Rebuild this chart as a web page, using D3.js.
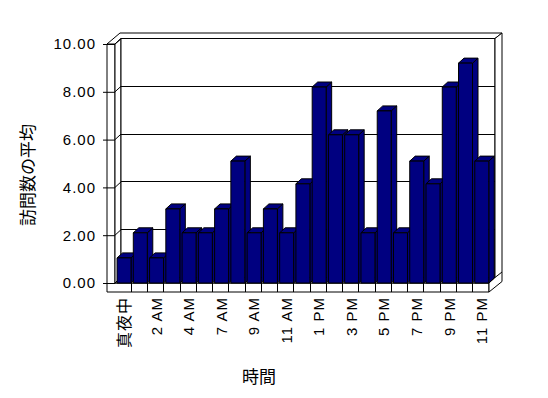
<!DOCTYPE html>
<html lang="ja">
<head>
<meta charset="UTF-8">
<title>訪問数の平均</title>
<script src="https://d3js.org/d3.v7.min.js"></script>
<style>
  body { margin: 0; background: #fff; }
  svg { display: block; }
  text { fill: #000; }
</style>
</head>
<body>
<script>
// hours (5 AM has no data), only every other one gets a label
var categories = ['真夜中', '1 AM', '2 AM', '3 AM', '4 AM', '6 AM', '7 AM', '8 AM', '9 AM', '10 AM', '11 AM', '正午',
                  '1 PM', '2 PM', '3 PM', '4 PM', '5 PM', '6 PM', '7 PM', '8 PM', '9 PM', '10 PM', '11 PM'];
var visits = [1.05, 2.1, 1.05, 3.1, 2.1, 2.1, 3.1, 5.1, 2.1, 3.1, 2.1, 4.15,
              8.2, 6.2, 6.2, 2.1, 7.2, 2.1, 5.1, 4.15, 8.2, 9.2, 5.1];
var yTicks = [0, 2, 4, 6, 8, 10];
var labelEvery = 2;

var width = 548, height = 398;
var dep = [6, -5.5];    // floor depth, front edge -> back wall
var thick = [7, -5.5];  // back wall thickness
var barDep = [5.5, -5]; // bar depth
var wallW = 8;          // side wall thickness seen from the front
var slab = 9;           // floor thickness

var x = d3.scaleBand()
          .domain(categories)
          .range([115, 489])
          .paddingInner(0.14)
          .paddingOuter(0.07)
          .align(0.9);

var y = d3.scaleLinear()
          .domain([0, 10])
          .range([283, 44]);

var svg = d3.select('body')
            .append('svg')
            .attr('width', width)
            .attr('height', height);

var L = x.range()[0], R = x.range()[1], Y0 = y(0), YT = y(10);
var navy = '#000080';

function poly(pts, fill) {
    return svg.append('polygon')
              .attr('points', pts.map(function(p) { return p.join(','); }).join(' '))
              .attr('fill', fill)
              .attr('stroke', '#000')
              .attr('stroke-width', 1)
              .attr('stroke-linejoin', 'miter');
}
function line(x1, y1, x2, y2) {
    svg.append('line')
       .attr('x1', x1).attr('y1', y1).attr('x2', x2).attr('y2', y2)
       .attr('stroke', '#000').attr('stroke-width', 1)
       .attr('shape-rendering', y1 === y2 || x1 === x2 ? 'crispEdges' : null);
}

// walls and floor
poly([[L - wallW, YT], [L, YT], [L, Y0], [R, Y0], [R, Y0 + slab], [L - wallW, Y0 + slab]], '#fff');
poly([[L, YT], [L + dep[0], YT + dep[1]], [L + dep[0], Y0 + dep[1]], [L, Y0]], '#fff');
poly([[L + dep[0], YT + dep[1]], [R + dep[0], YT + dep[1]], [R + dep[0], Y0 + dep[1]], [L + dep[0], Y0 + dep[1]]], '#fff');
poly([[L, Y0], [R, Y0], [R + dep[0], Y0 + dep[1]], [L + dep[0], Y0 + dep[1]]], '#fff');
// top edge of side + back wall
poly([[L - wallW, YT],
      [L - wallW + dep[0] + thick[0], YT + dep[1] + thick[1]],
      [R + dep[0] + thick[0], YT + dep[1] + thick[1]],
      [R + dep[0], YT + dep[1]],
      [L + dep[0], YT + dep[1]],
      [L, YT]], '#fff');
// right end of back wall and floor slab
poly([[R + dep[0], YT + dep[1]],
      [R + dep[0] + thick[0], YT + dep[1] + thick[1]],
      [R + dep[0] + thick[0], Y0 + slab + dep[1] + thick[1] + 0.5],
      [R, Y0 + slab],
      [R, Y0],
      [R + dep[0], Y0 + dep[1]]], '#fff');
line(R + dep[0], Y0 + dep[1], R + dep[0] + thick[0], Y0 + dep[1] + thick[1]);

// gridlines on side wall and back wall
yTicks.forEach(function(v) {
    line(L, y(v), L + dep[0], y(v) + dep[1]);
    line(L + dep[0], y(v) + dep[1], R + dep[0], y(v) + dep[1]);
});

// y axis ticks + labels
var yAxis = d3.axisLeft(y)
              .tickValues(yTicks)
              .tickFormat(d3.format('.2f'))
              .tickSize(12)
              .tickPadding(7);
var ya = svg.append('g')
            .attr('transform', 'translate(' + L + ',0)')
            .call(yAxis);
ya.select('.domain').remove();
ya.selectAll('line').attr('stroke', '#000');
ya.selectAll('text')
  .attr('font-family', 'Liberation Sans, Arial, sans-serif')
  .attr('font-size', '15px')
  .attr('letter-spacing', '1px')
  .attr('fill', '#000');

// category separators on the floor front
d3.range(1, categories.length).forEach(function(k) {
    var bx = L + k * x.step();
    line(bx, Y0, bx, Y0 + slab);
});

// bars
categories.forEach(function(c, i) {
    var x0 = x(c), w = x.bandwidth(), y1 = y(visits[i]);
    poly([[x0 + w, y1], [x0 + w + barDep[0], y1 + barDep[1]], [x0 + w + barDep[0], Y0 + barDep[1]], [x0 + w, Y0]], navy);
    poly([[x0, y1], [x0 + w, y1], [x0 + w + barDep[0], y1 + barDep[1]], [x0 + barDep[0], y1 + barDep[1]]], navy);
    poly([[x0, y1], [x0 + w, y1], [x0 + w, Y0], [x0, Y0]], navy);
});

// x labels, rotated
svg.append('g')
   .selectAll('text')
   .data(categories.filter(function(c, i) { return i % labelEvery === 0; }))
   .join('text')
   .attr('transform', function(c) {
       return 'translate(' + (x(c) + x.bandwidth() / 2) + ',297) rotate(-90)';
   })
   .attr('text-anchor', 'end')
   .attr('dy', '0.35em')
   .attr('fill', '#000')
   .attr('font-family', 'Liberation Sans, Arial, "Noto Sans CJK JP", sans-serif')
   .attr('font-size', function(c) { return /[^\x00-\x7f]/.test(c) ? '16px' : '15px'; })
   .attr('letter-spacing', '1px')
   .text(function(c) { return c; });

// axis titles
svg.append('text')
   .attr('transform', 'translate(28,175) rotate(-90)')
   .attr('text-anchor', 'middle')
   .attr('dy', '0.35em')
   .attr('fill', '#000')
   .attr('font-family', '"Noto Sans CJK JP", sans-serif')
   .attr('font-size', '17px')
   .text('訪問数の平均');

svg.append('text')
   .attr('x', 259)
   .attr('y', 377)
   .attr('text-anchor', 'middle')
   .attr('dy', '0.35em')
   .attr('fill', '#000')
   .attr('font-family', '"Noto Sans CJK JP", sans-serif')
   .attr('font-size', '17px')
   .text('時間');
</script>
</body>
</html>
